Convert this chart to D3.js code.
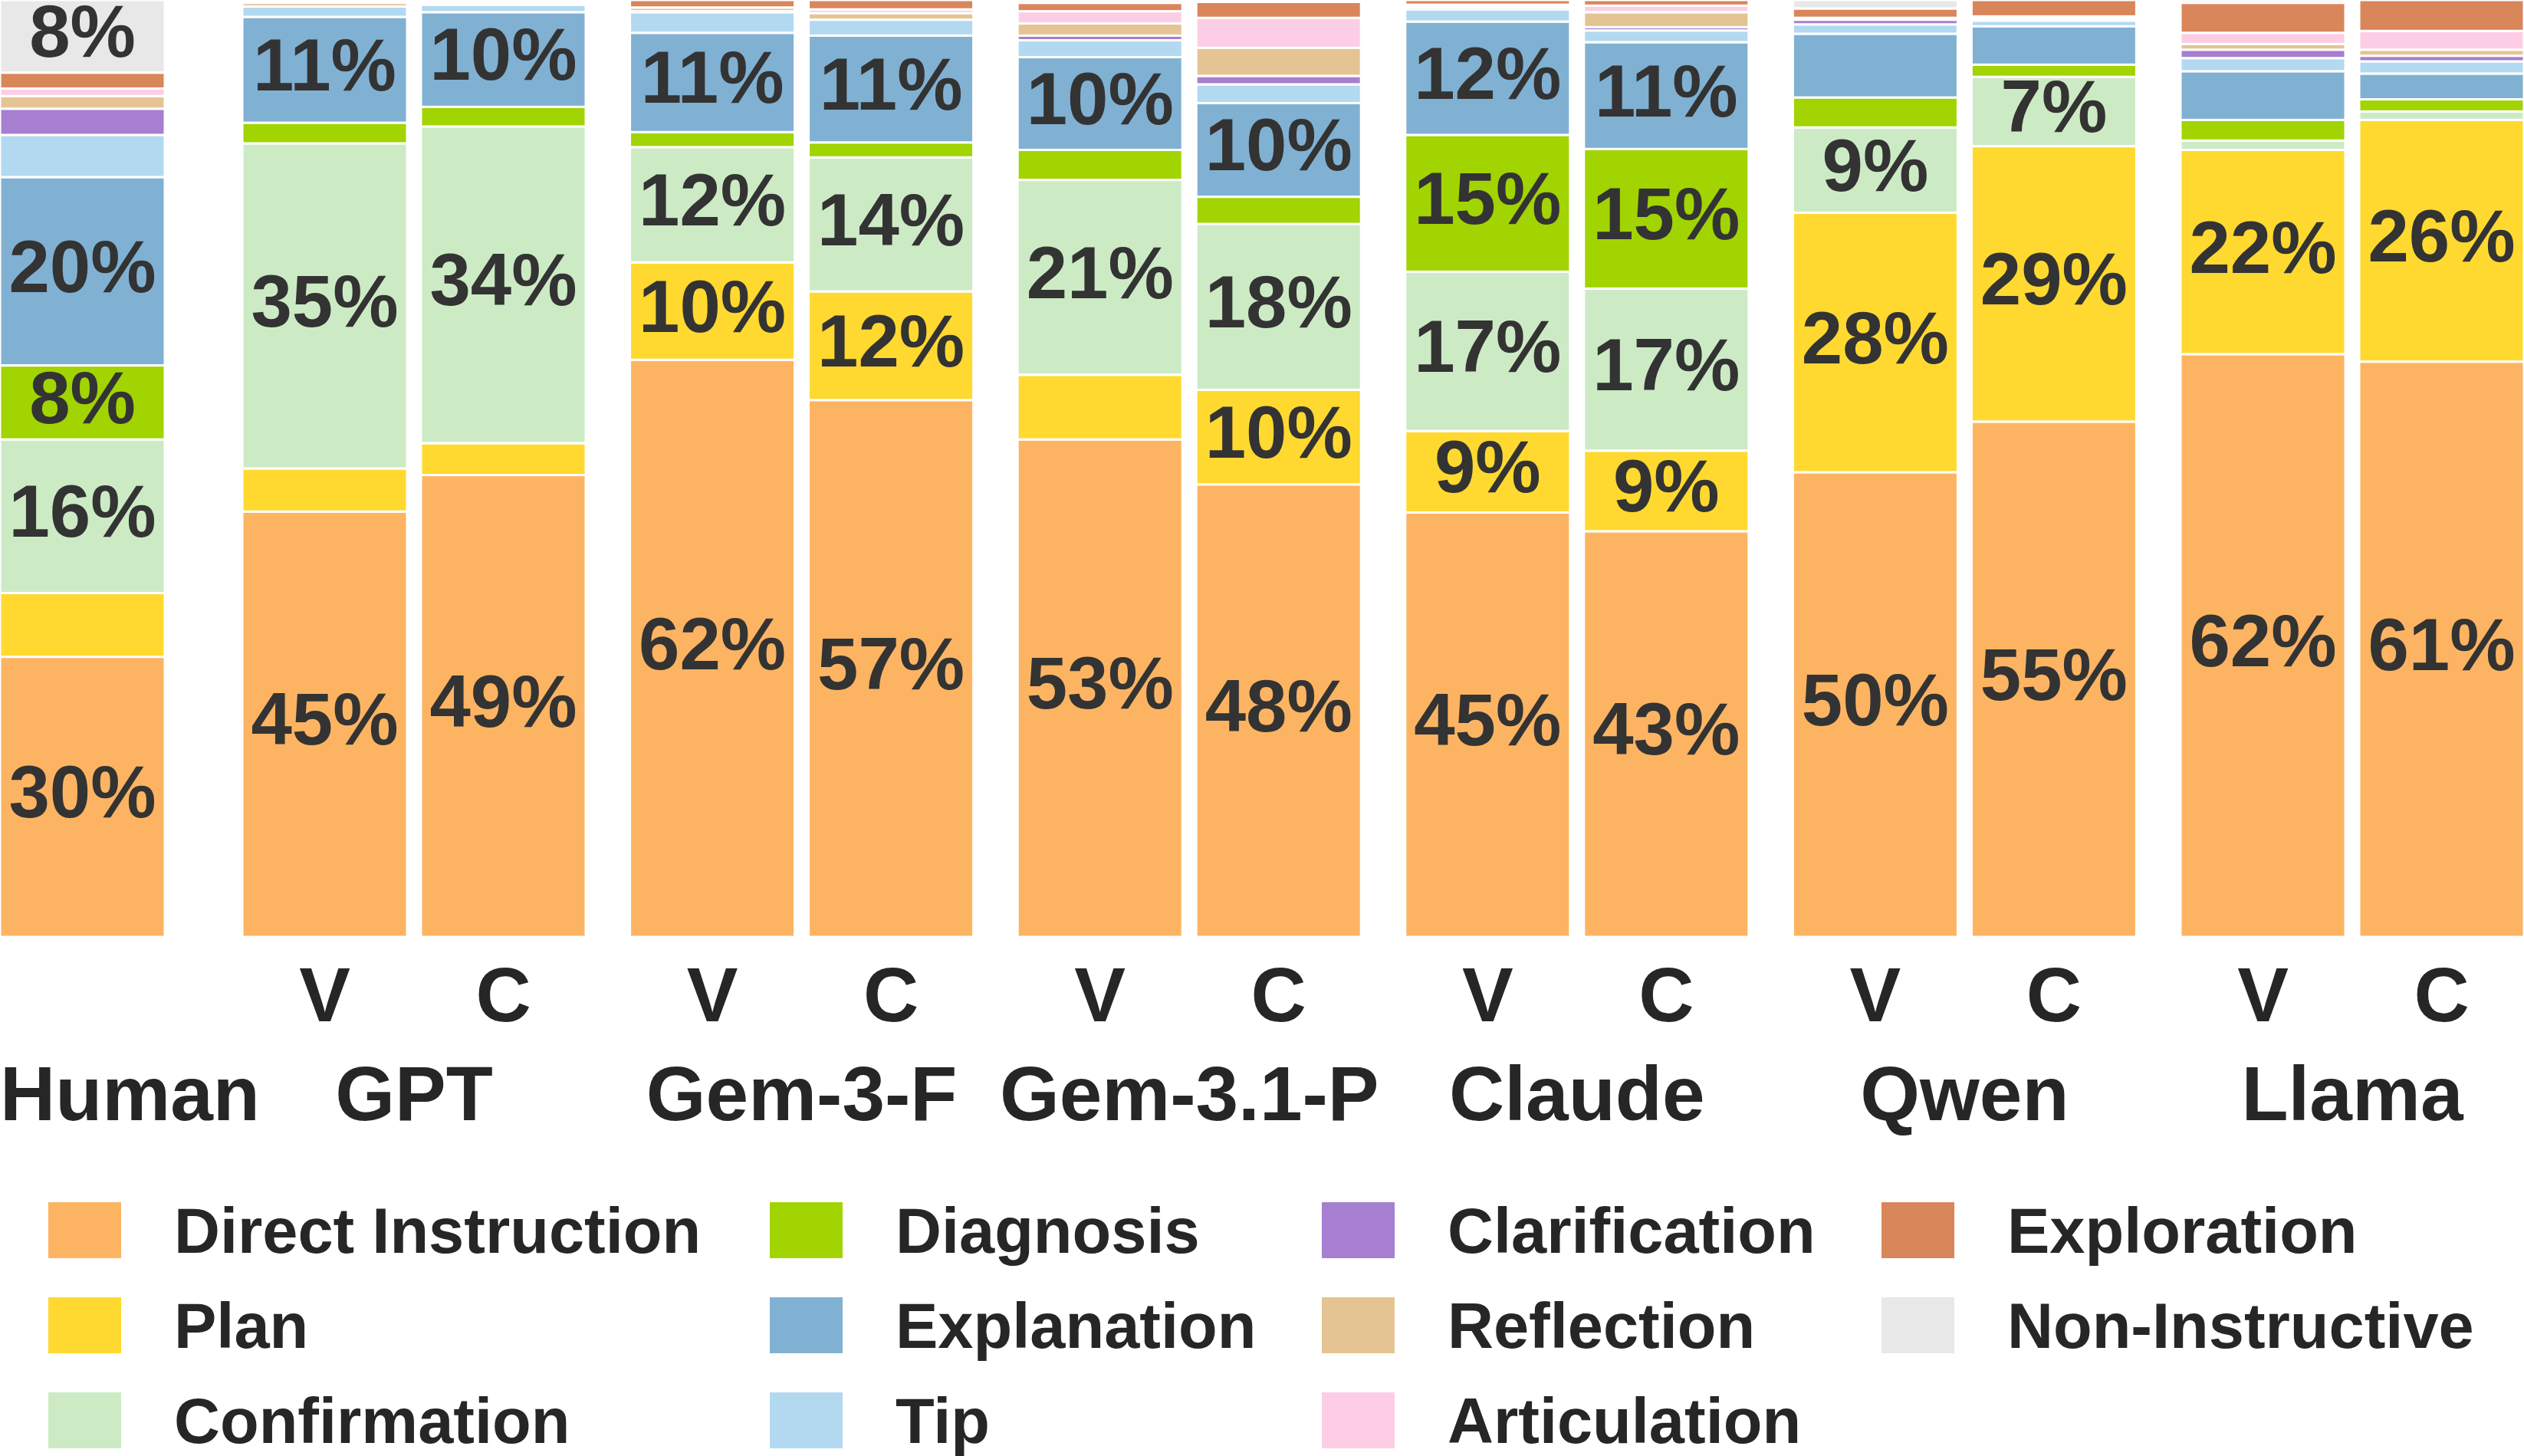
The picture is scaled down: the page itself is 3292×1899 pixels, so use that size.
<!DOCTYPE html>
<html lang="en">
  <head>
    <meta charset="UTF-8" />
    <title>Instruction categories</title>
    <script src="https://d3js.org/d3.v7.min.js"></script>
    <style>
      body { margin: 0; background: #fff; }
      text { font-family: 'Liberation Sans', Arial, sans-serif; font-weight: bold; }
    </style>
  </head>
  <body>
    <div id="chart"></div>
    <script>
      // categories, bottom to top of each stack
      const categories = ['Direct Instruction', 'Plan', 'Confirmation', 'Diagnosis', 'Explanation', 'Tip',
        'Clarification', 'Reflection', 'Articulation', 'Exploration', 'Non-Instructive']
      const colors = ['#fdb462', '#ffd92f', '#ccebc5', '#a1d400', '#80b1d3', '#b3d9f1',
        '#a67fd0', '#e5c494', '#fccde5', '#d9865a', '#e8e8e8']

      const groups = ['Human', 'GPT', 'Gem-3-F', 'Gem-3.1-P', 'Claude', 'Qwen', 'Llama']
      const conditions = ['V', 'C']

      // share (%) per category, same order as categories
      const human = [29.9, 6.8, 16.4, 7.9, 20.1, 4.5, 2.8, 1.35, 0.8, 1.7, 7.75]
      const gptV = [45.4, 4.6, 34.7, 2.2, 11.3, 1.1, 0, 0.4, 0.1, 0.2, 0]
      const gptC = [49.3, 3.4, 33.8, 2.1, 10.1, 0.8, 0.1, 0.2, 0, 0.2, 0]
      const gem3fV = [61.6, 10.4, 12.3, 1.6, 10.6, 2.2, 0.1, 0.4, 0, 0.8, 0]
      const gem3fC = [57.3, 11.6, 14.3, 1.6, 11.4, 1.7, 0, 0.7, 0.4, 1.0, 0]
      const gem31pV = [53.1, 6.9, 20.8, 3.2, 9.9, 1.8, 0.5, 1.3, 1.3, 0.9, 0.3]
      const gem31pC = [48.3, 10.1, 17.7, 2.9, 10.0, 2.0, 0.9, 3.0, 3.2, 1.7, 0.2]
      const claudeV = [45.3, 8.7, 17.0, 14.6, 12.1, 1.3, 0.2, 0.2, 0.1, 0.5, 0]
      const claudeC = [43.3, 8.6, 17.3, 14.9, 11.4, 1.25, 0.35, 1.6, 0.7, 0.6, 0]
      const qwenV = [49.6, 27.7, 9.1, 3.2, 6.8, 1.0, 0.5, 0.1, 0.1, 1.0, 0.9]
      const qwenC = [55.0, 29.4, 7.4, 1.3, 4.1, 0.6, 0.15, 0.15, 0.15, 1.75, 0]
      const llamaV = [62.2, 21.8, 1.0, 2.2, 5.2, 1.4, 0.9, 0.6, 1.2, 3.2, 0.3]
      const llamaC = [61.4, 25.8, 0.9, 1.3, 2.75, 1.3, 0.6, 0.65, 2.0, 3.3, 0]

      const barValues = [human, gptV, gptC, gem3fV, gem3fC, gem31pV, gem31pC,
        claudeV, claudeC, qwenV, qwenC, llamaV, llamaC]

      // rows for d3.stack
      const rows = barValues.map((vals, i) => {
        const row = {
          group: i === 0 ? groups[0] : groups[Math.ceil(i / 2)],
          cond: i === 0 ? '' : conditions[(i - 1) % 2]
        }
        categories.forEach((c, j) => (row[c] = vals[j]))
        return row
      })

      const W = 3292, H = 1899
      const barW = 215, pairStep = 233
      const plotBottom = 1222

      const svg = d3.select('#chart').append('svg').attr('width', W).attr('height', H)

      // group start positions (model groups), human bar stands alone at the left
      const xGroup = d3.scaleLinear().domain([1, groups.length - 1]).range([316, 2844])
      const barX = d => d.group === 'Human' ? 0
        : xGroup(groups.indexOf(d.group)) + conditions.indexOf(d.cond) * pairStep

      const y = d3.scaleLinear().domain([0, 100]).range([plotBottom, 0])
      const color = d3.scaleOrdinal().domain(categories).range(colors)

      const stacked = d3.stack().keys(categories)(rows)

      const layer = svg.selectAll('g.layer')
        .data(stacked)
        .join('g')
        .attr('class', 'layer')
        .attr('fill', d => color(d.key))

      layer.selectAll('rect')
        .data(d => d.filter(s => s[1] - s[0] > 0))
        .join('rect')
        .attr('x', s => barX(s.data))
        .attr('width', barW)
        .attr('y', s => y(s[1]))
        .attr('height', s => y(s[0]) - y(s[1]))
        .attr('stroke', '#fff')
        .attr('stroke-width', 3)

      // percentage labels for the larger segments
      layer.selectAll('text')
        .data(d => d.filter(s => s[1] - s[0] >= 7))
        .join('text')
        .attr('x', s => barX(s.data) + barW / 2)
        .attr('y', s => y((s[0] + s[1]) / 2))
        .attr('text-anchor', 'middle')
        .attr('dy', '0.28em')
        .attr('font-size', 96)
        .attr('fill', '#333')
        .text(s => Math.round(s[1] - s[0]) + '%')

      // V / C labels under each model bar
      svg.selectAll('text.cond')
        .data(rows.filter(r => r.cond))
        .join('text')
        .attr('class', 'cond')
        .attr('x', d => barX(d) + barW / 2)
        .attr('y', 1332)
        .attr('text-anchor', 'middle')
        .attr('font-size', 100)
        .attr('fill', '#262626')
        .text(d => d.cond)

      // group names
      svg.selectAll('text.group')
        .data(groups)
        .join('text')
        .attr('class', 'group')
        .attr('x', g => g === 'Human' ? 0 : xGroup(groups.indexOf(g)) + (pairStep + barW) / 2)
        .attr('y', 1461)
        .attr('text-anchor', g => g === 'Human' ? 'start' : 'middle')
        .attr('font-size', 100)
        .attr('fill', '#262626')
        .text(g => g)

      // legend, filled column by column
      const legendCols = [63, 1004, 1724, 2454]
      const legendRowY = [1568, 1692, 1816]
      const legend = svg.selectAll('g.legend')
        .data(categories)
        .join('g')
        .attr('class', 'legend')
        .attr('transform', (c, i) =>
          `translate(${legendCols[Math.floor(i / 3)]}, ${legendRowY[i % 3]})`)
      legend.append('rect')
        .attr('width', 95)
        .attr('height', 73)
        .attr('fill', c => color(c))
      legend.append('text')
        .attr('x', 164)
        .attr('y', 66)
        .attr('font-size', 83)
        .attr('fill', '#262626')
        .text(c => c)
    </script>
  </body>
</html>
